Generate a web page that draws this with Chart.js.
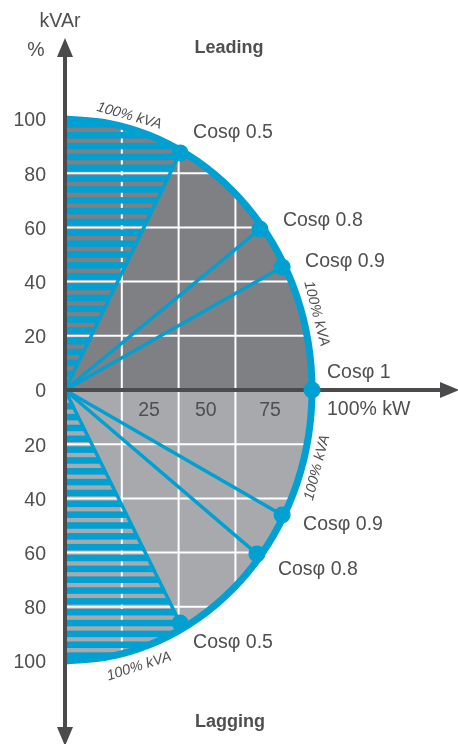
<!DOCTYPE html>
<html>
<head>
<meta charset="utf-8">
<script src="https://cdn.jsdelivr.net/npm/chart.js@4.4.1/dist/chart.umd.min.js"></script>
<style>
  html, body { margin: 0; padding: 0; background: #fff; }
  #wrap { width: 458px; height: 744px; position: relative; }
</style>
</head>
<body>
<div id="wrap"><canvas id="pqChart"></canvas></div>
<script>
// P-Q capability diagram: kW (x) against kVAr (y), leading > 0, lagging < 0
const kvaArcLeading = [[0,100],[17.4,98.5],[34.2,94],[50,86.6],[64.3,76.6],[76.6,64.3],[86.6,50],[94,34.2],[98.5,17.4],[100,0]];
const kvaArcLagging = [[0,-100],[17.4,-98.5],[34.2,-94],[50,-86.6],[64.3,-76.6],[76.6,-64.3],[86.6,-50],[94,-34.2],[98.5,-17.4],[100,0]];
const cosLeading = [[46.6,87.5],[78.9,59.4],[87.9,45.4],[100,0]];
const cosLagging = [[87.9,-46.1],[77.7,-60.5],[46.6,-86]];
const cosLeadingNames = ['Cosφ 0.5','Cosφ 0.8','Cosφ 0.9','Cosφ 1'];
const cosLaggingNames = ['Cosφ 0.9','Cosφ 0.8','Cosφ 0.5'];
const yTicks = [100,80,60,40,20,0,-20,-40,-60,-80,-100];
const xTickLabels = ['25','50','75'];
const xTickAt = [34,57,83];
const gridX = [23,46,69];
const gridY = [80,60,40,20,-20,-40,-60,-80];

const BLUE = '#00a0d3', DARK = '#7f8084', LIGHT = '#a8a9ac', AXIS = '#4b4b4e', TXT = '#4f4f52';
const FONT = '"Liberation Sans", Arial, sans-serif';

// label offsets (px) from each cos point
const leadOff = [[13,-20],[23,-8],[23,-5],[15,-17]];
const lagOff = [[21,10],[21,16],[13,20]];
// "100% kVA" labels: ellipse angle (deg), outward offset (px)
const kvaLabels = [[75.7,12],[15.6,14],[-15.8,15],[-73.8,17]];

const pt = a => ({ x: a[0], y: a[1] });

function drawText(ctx, s, x, y, font, align, base) {
  ctx.font = font; ctx.fillStyle = TXT; ctx.textAlign = align || 'left'; ctx.textBaseline = base || 'middle';
  ctx.fillText(s, x, y);
}

const diagram = {
  id: 'diagram',
  afterDatasetDraw(chart, args) {
    const ds = chart.data.datasets[args.index];
    const { ctx } = chart, sx = chart.scales.x, sy = chart.scales.y;
    const ox = sx.getPixelForValue(0), oy = sy.getPixelForValue(0);
    const rx = sx.getPixelForValue(100) - ox, ry = oy - sy.getPixelForValue(100);

    if (ds.label === 'lagging') {
      ctx.save();
      ctx.beginPath(); ctx.ellipse(ox, oy, rx, ry, 0, -Math.PI / 2, Math.PI / 2); ctx.closePath(); ctx.clip();
      // grid
      ctx.strokeStyle = '#ffffff'; ctx.lineWidth = 2;
      gridY.forEach(v => { const y = sy.getPixelForValue(v); ctx.beginPath(); ctx.moveTo(ox, y); ctx.lineTo(ox + rx, y); ctx.stroke(); });
      gridX.forEach(v => { const x = sx.getPixelForValue(v); ctx.beginPath(); ctx.moveTo(x, oy - ry); ctx.lineTo(x, oy + ry); ctx.stroke(); });
      // hatched sectors between the kVAr axis and cos 0.5
      [cosLeading[0], cosLagging[2]].forEach(p => {
        const px = sx.getPixelForValue(p[0]), py = sy.getPixelForValue(p[1]);
        ctx.save();
        ctx.beginPath();
        ctx.moveTo(ox, oy);
        ctx.lineTo(ox + 2 * (px - ox), oy + 2 * (py - oy));
        ctx.lineTo(ox, oy + 2 * (py - oy));
        ctx.closePath(); ctx.clip();
        ctx.fillStyle = BLUE;
        for (let k = -26; k <= 26; k++) {
          const a = sy.getPixelForValue(4 * k + 0.8), b = sy.getPixelForValue(4 * k + 3.2);
          ctx.fillRect(ox, Math.min(a, b), rx, Math.abs(a - b));
        }
        ctx.restore();
      });
      ctx.restore();
    }

    if (ds.label === 'kva') {
      // axes with arrow heads
      const top = chart.chartArea.top + 38, bottom = chart.chartArea.bottom + 2, right = chart.chartArea.right + 1;
      const L = 19, W = 8;
      ctx.save();
      ctx.strokeStyle = AXIS; ctx.fillStyle = AXIS; ctx.lineWidth = 4;
      ctx.beginPath(); ctx.moveTo(ox, top + L - 1); ctx.lineTo(ox, bottom - L + 1); ctx.stroke();
      ctx.beginPath(); ctx.moveTo(ox - 2, oy); ctx.lineTo(right - L + 1, oy); ctx.stroke();
      ctx.beginPath(); ctx.moveTo(ox, top); ctx.lineTo(ox - W, top + L); ctx.lineTo(ox + W, top + L); ctx.closePath(); ctx.fill();
      ctx.beginPath(); ctx.moveTo(ox, bottom); ctx.lineTo(ox - W, bottom - L); ctx.lineTo(ox + W, bottom - L); ctx.closePath(); ctx.fill();
      ctx.beginPath(); ctx.moveTo(right, oy); ctx.lineTo(right - L, oy - W); ctx.lineTo(right - L, oy + W); ctx.closePath(); ctx.fill();
      ctx.restore();
    }
  },
  afterDraw(chart) {
    const { ctx } = chart, sx = chart.scales.x, sy = chart.scales.y;
    const ox = sx.getPixelForValue(0), oy = sy.getPixelForValue(0);
    const rx = sx.getPixelForValue(100) - ox, ry = oy - sy.getPixelForValue(100);
    const f19 = '19.5px ' + FONT;
    ctx.save();
    yTicks.forEach(v => drawText(ctx, String(Math.abs(v)), ox - 19, sy.getPixelForValue(v) + 2, f19, 'right'));
    xTickLabels.forEach((s, i) => drawText(ctx, s, sx.getPixelForValue(xTickAt[i]), oy + 21, f19, 'center'));
    drawText(ctx, 'kVAr', ox - 5, 22, f19, 'center');
    drawText(ctx, '%', ox - 29, 51, f19, 'center');
    drawText(ctx, 'Leading', 229, 48, 'bold 18px ' + FONT, 'center');
    drawText(ctx, 'Lagging', 230, 722, 'bold 18px ' + FONT, 'center');
    cosLeading.forEach((p, i) => drawText(ctx, cosLeadingNames[i], sx.getPixelForValue(p[0]) + leadOff[i][0], sy.getPixelForValue(p[1]) + leadOff[i][1], f19));
    cosLagging.forEach((p, i) => drawText(ctx, cosLaggingNames[i], sx.getPixelForValue(p[0]) + lagOff[i][0], sy.getPixelForValue(p[1]) + lagOff[i][1], f19));
    const c1 = cosLeading[3];
    drawText(ctx, '100% kW', sx.getPixelForValue(c1[0]) + 15, sy.getPixelForValue(c1[1]) + 20, f19);
    kvaLabels.forEach(([deg, off]) => {
      const t = deg * Math.PI / 180;
      const x = ox + rx * Math.cos(t), y = oy - ry * Math.sin(t);
      let nx = Math.cos(t) / rx, ny = -Math.sin(t) / ry; const n = Math.hypot(nx, ny); nx /= n; ny /= n;
      const rot = t > 0 ? Math.atan2(ry * Math.cos(t), rx * Math.sin(t)) : Math.atan2(-ry * Math.cos(t), -rx * Math.sin(t));
      ctx.save();
      ctx.translate(x + nx * off, y + ny * off); ctx.rotate(rot);
      drawText(ctx, '100% kVA', 0, 0, 'italic 14.5px ' + FONT, 'center');
      ctx.restore();
    });
    ctx.restore();
  }
};

const kvaOutline = kvaArcLeading.concat(kvaArcLagging.slice(0, -1).reverse()).map(pt);
const cosLines = cosLeading.slice(0, 3).concat(cosLagging).map(p => ({
  type: 'line', label: 'cos', order: 3, data: [{ x: 0, y: 0 }, pt(p)],
  borderColor: BLUE, borderWidth: 3.5, pointRadius: 0, tension: 0, fill: false
}));

new Chart(document.getElementById('pqChart'), {
  type: 'scatter',
  data: {
    datasets: [
      { type: 'line', label: 'leading', order: 6, data: kvaArcLeading.map(pt), fill: 'origin', backgroundColor: DARK, borderWidth: 0, pointRadius: 0, tension: 0.33 },
      { type: 'line', label: 'lagging', order: 5, data: kvaArcLagging.map(pt), fill: 'origin', backgroundColor: LIGHT, borderWidth: 0, pointRadius: 0, tension: 0.33 },
      ...cosLines,
      { type: 'line', label: 'kva', order: 2, data: kvaOutline, fill: false, borderColor: BLUE, borderWidth: 7, pointRadius: 0, tension: 0.33 },
      { type: 'scatter', label: 'points', order: 1, data: cosLeading.concat(cosLagging).map(pt), backgroundColor: BLUE, borderColor: BLUE, borderWidth: 0, pointRadius: 8.5 }
    ]
  },
  options: {
    responsive: true, maintainAspectRatio: false, animation: false, events: [],
    layout: { padding: 0, autoPadding: false },
    plugins: { legend: { display: false }, tooltip: { enabled: false } },
    scales: {
      x: { type: 'linear', display: false, min: -65 / 2.47, max: 393 / 2.47 },
      y: { type: 'linear', display: false, min: -354 / 2.71, max: 390 / 2.71 }
    }
  },
  plugins: [diagram]
});
</script>
</body>
</html>
